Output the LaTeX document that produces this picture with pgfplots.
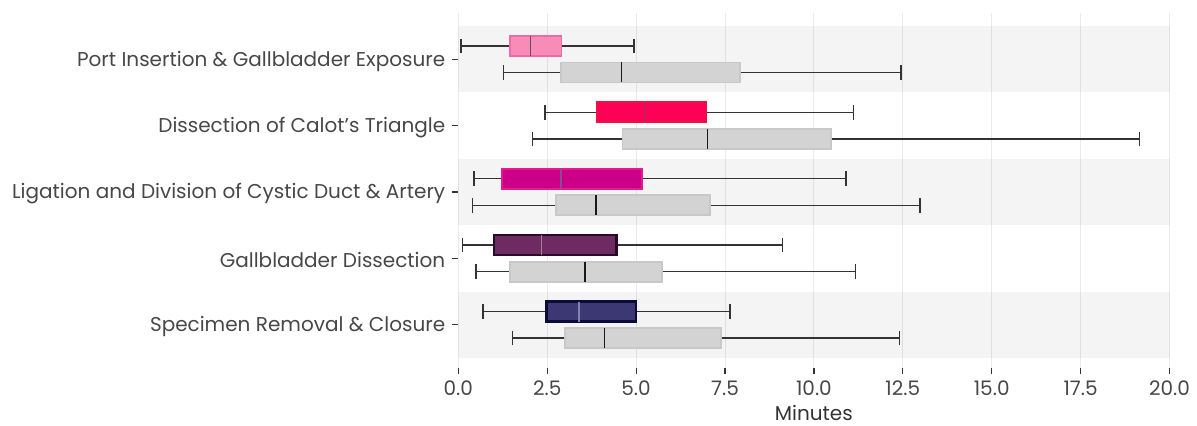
\documentclass[border=0pt]{standalone}
\usepackage{pgfplots}
\pgfplotsset{compat=1.18}
\usepgfplotslibrary{statistics}
\usepackage{fontspec}
\setmainfont{Poppins}
\definecolor{gridgray}{HTML}{EAEAEA}
\definecolor{boxgray}{HTML}{D3D3D3}
\definecolor{whisk}{HTML}{333333}
\definecolor{pinkF}{HTML}{F78CB9}\definecolor{pinkD}{HTML}{EE6AA4}\definecolor{pinkM}{HTML}{6D4A58}
\definecolor{redF}{HTML}{FF0057}\definecolor{redD}{HTML}{EE1144}\definecolor{redM}{HTML}{99335A}
\definecolor{magF}{HTML}{CC0088}\definecolor{magD}{HTML}{E8198F}\definecolor{magM}{HTML}{8A4A8F}
\definecolor{purF}{HTML}{6E2B62}\definecolor{purD}{HTML}{2A0A2A}\definecolor{purM}{HTML}{B07AA0}
\definecolor{navF}{HTML}{3B3874}\definecolor{navD}{HTML}{0B0B3A}\definecolor{navM}{HTML}{8484AC}
\pgfplotsset{
  colbox/.style n args={3}{
    boxplot/draw direction=x,
    boxplot/box extend=0.3,
    boxplot/whisker extend=0.22,
    boxplot/every box/.style={draw=#2, fill=#1, line width=0.9pt},
    boxplot/every whisker/.style={draw=whisk, line width=0.75pt},
    boxplot/every median/.style={draw=#3, line width=0.8pt},
    mark=none, solid},
  graybox/.style={colbox={boxgray}{boxgray!95!black}{black!90}},
}
\begin{document}
\begin{tikzpicture}
\path[use as bounding box] (-229.15pt,-29pt) rectangle (369.35pt,184pt);
\begin{axis}[
  at={(0,0)}, anchor=south west,
  scale only axis, width=355.6pt, height=177.65pt,
  xmin=0, xmax=20, ymin=0.35, ymax=5.7,
  axis x line*=bottom, axis y line*=left,
  axis line style={draw=none},
  xtick={0,2.5,5,7.5,10,12.5,15,17.5,20},
  xticklabels={0.0,2.5,5.0,7.5,10.0,12.5,15.0,17.5,20.0},
  ytick={1,2,3,4,5},
  yticklabels={Specimen Removal \& Closure, Gallbladder Dissection, Ligation and Division of Cystic Duct \& Artery, Dissection of Calot's Triangle, Port Insertion \& Gallbladder Exposure},
  tick align=outside, major tick length=3pt,
  tick style={whisk, line width=0.6pt},
  xmajorgrids, grid style={gridgray, line width=0.5pt},
  tick label style={font=\fontsize{10}{12}\selectfont, text=black!72},
  yticklabel style={yshift=-1pt},
  xlabel={Minutes}, xlabel style={font=\fontsize{10}{12}\selectfont, text=black!80, yshift=2pt},
]
% background bands (translucent so the grid shows through)
\addplot[fill=black, fill opacity=0.045, draw=none] coordinates {(0,4.5) (20,4.5) (20,5.5) (0,5.5)};
\addplot[fill=black, fill opacity=0.045, draw=none] coordinates {(0,2.5) (20,2.5) (20,3.5) (0,3.5)};
\addplot[fill=black, fill opacity=0.045, draw=none] coordinates {(0,0.5) (20,0.5) (20,1.5) (0,1.5)};
% Port insertion
\addplot[colbox={pinkF}{pinkD}{pinkM}, boxplot prepared={draw position=5.2, lower whisker=0.07, lower quartile=1.45, median=2.03, upper quartile=2.90, upper whisker=4.94}] coordinates {};
\addplot[graybox, boxplot prepared={draw position=4.8, lower whisker=1.27, lower quartile=2.89, median=4.59, upper quartile=7.92, upper whisker=12.45}] coordinates {};
% Calot
\addplot[colbox={redF}{redD}{redM}, boxplot prepared={draw position=4.2, lower whisker=2.44, lower quartile=3.90, median=5.26, upper quartile=6.98, upper whisker=11.11}] coordinates {};
\addplot[graybox, boxplot prepared={draw position=3.8, lower whisker=2.08, lower quartile=4.62, median=7.01, upper quartile=10.49, upper whisker=19.15}] coordinates {};
% Ligation
\addplot[colbox={magF}{magD}{magM}, boxplot prepared={draw position=3.2, lower whisker=0.44, lower quartile=1.23, median=2.89, upper quartile=5.17, upper whisker=10.90}] coordinates {};
\addplot[graybox, boxplot prepared={draw position=2.8, lower whisker=0.40, lower quartile=2.75, median=3.88, upper quartile=7.07, upper whisker=12.98}] coordinates {};
% Gallbladder dissection
\addplot[colbox={purF}{purD}{purM}, boxplot/every box/.append style={line width=1.3pt}, boxplot prepared={draw position=2.2, lower whisker=0.12, lower quartile=1.00, median=2.34, upper quartile=4.45, upper whisker=9.11}] coordinates {};
\addplot[graybox, boxplot prepared={draw position=1.8, lower whisker=0.50, lower quartile=1.46, median=3.57, upper quartile=5.73, upper whisker=11.17}] coordinates {};
% Specimen removal
\addplot[colbox={navF}{navD}{navM}, boxplot/every box/.append style={line width=1.3pt}, boxplot prepared={draw position=1.2, lower whisker=0.69, lower quartile=2.48, median=3.39, upper quartile=5.00, upper whisker=7.64}] coordinates {};
\addplot[graybox, boxplot prepared={draw position=0.8, lower whisker=1.52, lower quartile=3.01, median=4.11, upper quartile=7.38, upper whisker=12.41}] coordinates {};
\end{axis}
\end{tikzpicture}
\end{document}
